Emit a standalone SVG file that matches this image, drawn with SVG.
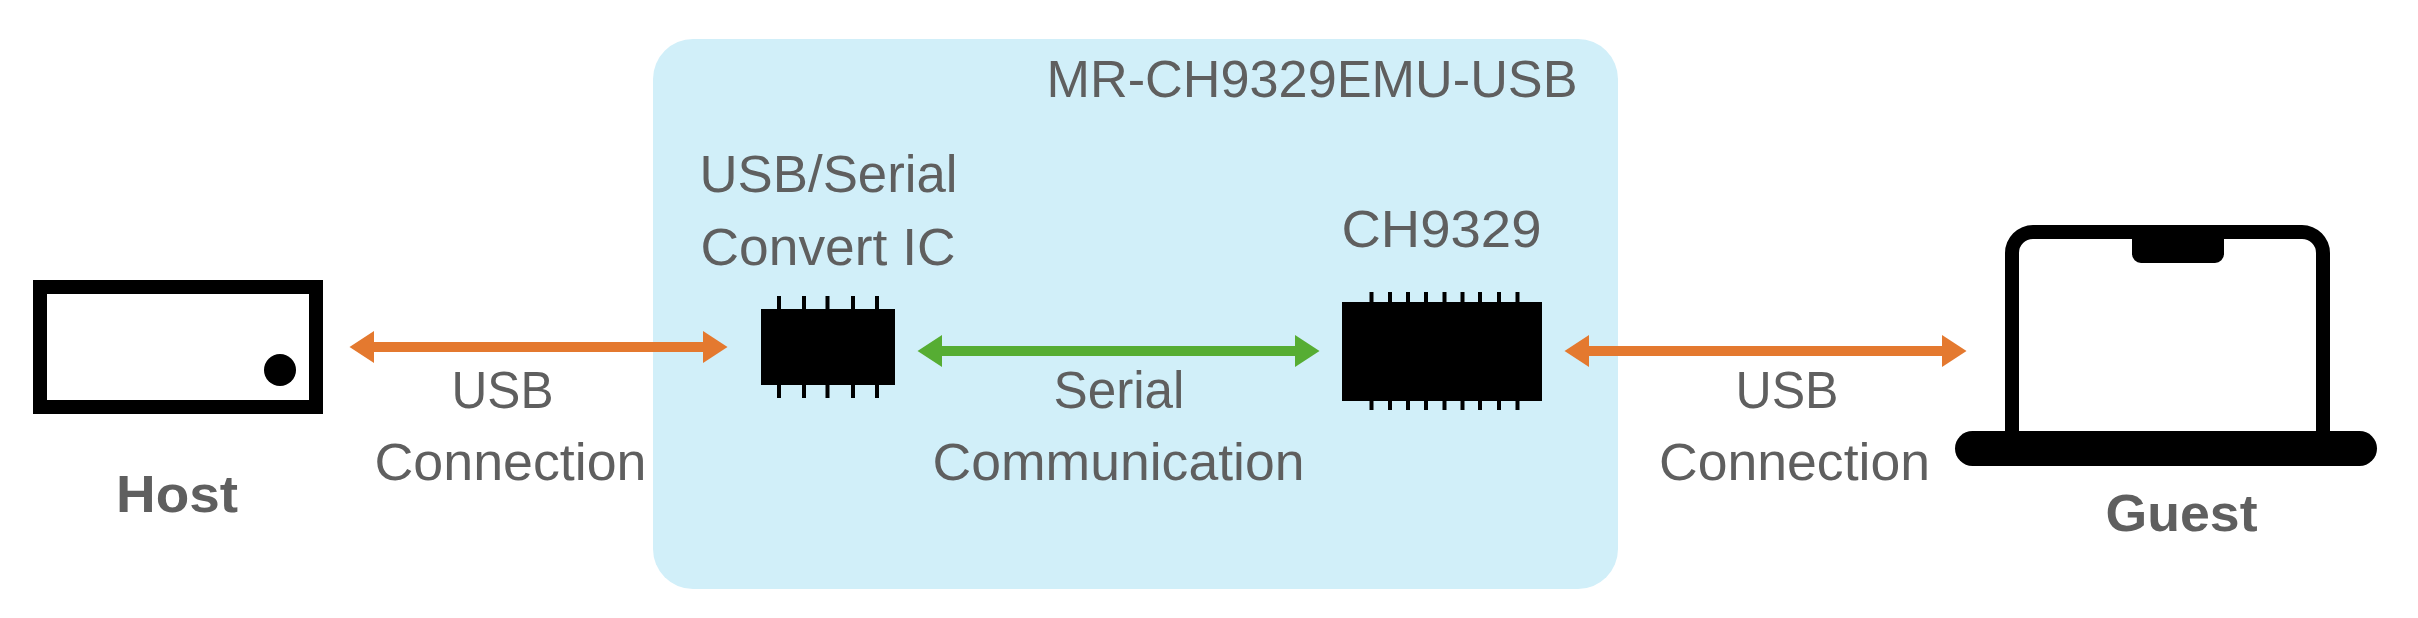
<svg xmlns="http://www.w3.org/2000/svg" width="2418" height="618" viewBox="0 0 2418 618">
<style>
text{font-family:"Liberation Sans",Arial,sans-serif;font-size:51px;fill:#5f5f5f}
.b{font-weight:700;font-size:52px}
.ora{stroke:#e4792f;stroke-width:10;fill:none}
.grn{stroke:#56ad33;stroke-width:10;fill:none}
.pin{stroke:#000;stroke-width:4;fill:none}
</style>
<defs>
<marker id="ho" markerUnits="userSpaceOnUse" markerWidth="25" markerHeight="32" viewBox="0 0 25 32" refX="1" refY="16" orient="auto-start-reverse"><path d="M0 0L24.500 16L0 32z" fill="#e4792f"/></marker>
<marker id="hg" markerUnits="userSpaceOnUse" markerWidth="25" markerHeight="32" viewBox="0 0 25 32" refX="1" refY="16" orient="auto-start-reverse"><path d="M0 0L24.500 16L0 32z" fill="#56ad33"/></marker>
</defs>
<rect width="2418" height="618" fill="#fff"/>
<g id="emulator">
<rect x="653" y="39" width="965" height="550" rx="40" ry="40" fill="#d1eff9"/>
<text x="1046.500" y="97" textLength="531" lengthAdjust="spacingAndGlyphs">MR-CH9329EMU-USB</text>
</g>
<g id="connectors">
<line class="ora" x1="373" y1="347" x2="704" y2="347" marker-start="url(#ho)" marker-end="url(#ho)"/>
<line class="grn" x1="941" y1="351" x2="1296" y2="351" marker-start="url(#hg)" marker-end="url(#hg)"/>
<line class="ora" x1="1588" y1="351" x2="1943" y2="351" marker-start="url(#ho)" marker-end="url(#ho)"/>
</g>
<g id="host">
<rect x="40" y="287" width="276" height="120" fill="#fff" stroke="#000" stroke-width="14"/>
<circle cx="280" cy="370" r="16"/>
<text class="b" x="116" y="512" textLength="122" lengthAdjust="spacingAndGlyphs">Host</text>
</g>
<g id="usb-serial-ic">
<rect x="761" y="309" width="134" height="76"/>
<path class="pin" d="M779 296V398M804 296V398M827.500 296V398M853 296V398M877 296V398"/>
<text x="699.500" y="192" textLength="258" lengthAdjust="spacingAndGlyphs">USB/Serial</text>
<text x="700.500" y="265" textLength="255" lengthAdjust="spacingAndGlyphs">Convert IC</text>
</g>
<g id="ch9329">
<rect x="1342" y="302" width="200" height="99"/>
<path class="pin" d="M1371.500 292V410M1390 292V410M1408 292V410M1426 292V410M1444.500 292V410M1462.500 292V410M1480 292V410M1499 292V410M1517.500 292V410"/>
<text x="1341.500" y="247" textLength="200" lengthAdjust="spacingAndGlyphs">CH9329</text>
</g>
<g id="guest">
<path fill-rule="evenodd" d="M2033 225H2302A28 28 0 0 1 2330 253V431H2005V253A28 28 0 0 1 2033 225ZM2033 239A14 14 0 0 0 2019 253V431H2316V253A14 14 0 0 0 2302 239H2224V254A9 9 0 0 1 2215 263H2141A9 9 0 0 1 2132 254V239Z"/>
<rect x="1955" y="431" width="422" height="35" rx="17.500" ry="17.500"/>
<text class="b" x="2105.500" y="531" textLength="152" lengthAdjust="spacingAndGlyphs">Guest</text>
</g>
<g id="labels">
<text x="451.500" y="408" textLength="102" lengthAdjust="spacingAndGlyphs">USB</text>
<text x="374.500" y="480" textLength="272" lengthAdjust="spacingAndGlyphs">Connection</text>
<text x="1053.500" y="408" textLength="131" lengthAdjust="spacingAndGlyphs">Serial</text>
<text x="932.500" y="480" textLength="372" lengthAdjust="spacingAndGlyphs">Communication</text>
<text x="1735.500" y="408" textLength="103" lengthAdjust="spacingAndGlyphs">USB</text>
<text x="1659" y="480" textLength="271" lengthAdjust="spacingAndGlyphs">Connection</text>
</g>
</svg>
